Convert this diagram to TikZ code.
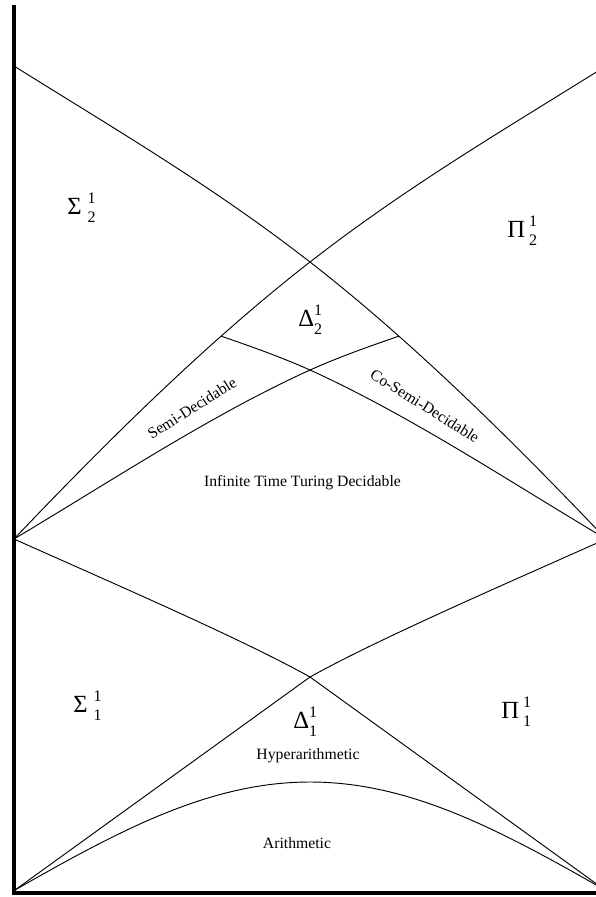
\documentclass[tikz,border=0pt]{standalone}
\usepackage{fontspec}
\setmainfont{Liberation Serif}
\newcommand{\cls}[4][0pt]{#2\kern#1\rlap{\raisebox{0.44em}{\fontsize{12}{12}\selectfont #3}}\raisebox{-0.33em}{\fontsize{12}{12}\selectfont #4}}

\begin{document}
\begin{tikzpicture}[x=0.75pt, y=-0.75pt,
    line/.style={line width=0.7pt},
    axis/.style={line width=3pt},
    big/.style={inner sep=0pt, anchor=base west, font=\fontsize{18.5}{18.5}\selectfont},
    lbl/.style={inner sep=0pt, font=\fontsize{11.8}{14}\selectfont}]
            \useasboundingbox (0,0) rectangle (596,897);
            \clip (0,0) rectangle (596,897);
            \coordinate (T) at (13.7,5.3);
            \coordinate (E) at (597,893);
            \coordinate (O) at (15,890);
            \coordinate (Or) at (605,890);
            \coordinate (M) at (310,782);
            \coordinate (L) at (14,539);
            \coordinate (R) at (606,539);
            \coordinate (A0) at (14,66);
            \coordinate (B0) at (606,66);
            \coordinate (X1) at (310,677);
            \coordinate (X2) at (310,262);
            \coordinate (X3) at (310,370);
            \draw[line] (A0) .. controls (113,128) and (211,185) .. (X2) .. controls (409,339) and (507,435) .. coordinate[pos=0.3] (P2) (R);
            \draw[line] (B0) .. controls (507,128) and (409,185) .. (X2) .. controls (211,339) and (113,435) .. coordinate[pos=0.3] (P1) (L);
            \draw[line] (P2) .. controls +(-29,10) and +(29,-13) .. (X3) .. controls +(-99,45) and +(99,-59) .. (L);
            \draw[line] (P1) .. controls +(29,10) and +(-29,-13) .. (X3) .. controls +(99,45) and +(-99,-59) .. (R);
            \draw[line] (L) .. controls +(96,43) and +(-70,-39) .. (X1) -- (Or);
            \draw[line] (R) .. controls +(-96,43) and +(70,-39) .. (X1) -- (O);
            \draw[line] (O) .. controls +(105,-60) and +(-100,0) .. (M) .. controls +(100,0) and +(-105,-60) .. (Or);
            \draw[axis] (T) |- (E);
            \node[big] (s2) at (67,214) {\cls[4.5pt]{Σ}{1}{2}};
            \node[big] (p2) at (507,237) {\cls[3pt]{Π}{1}{2}};
            \node[big] (d2) at (298,326) {\cls{Δ}{1}{2}};
            \node[big] (s1) at (73,712) {\cls[4.5pt]{Σ}{1}{1}};
            \node[big] (p1) at (501,718) {\cls[3pt]{Π}{1}{1}};
            \node[big] (d1) at (293,728) {\cls{Δ}{1}{1}};
            \node[lbl, rotate=32] (semi) at (192,408) {Semi-Decidable};
            \node[lbl, rotate=-32] (cosemi) at (425,406) {Co-Semi-Decidable};
            \node[lbl, anchor=base] (itt) at (302.5,486) {Infinite Time Turing Decidable};
            \node[lbl, anchor=base] (hyp) at (308,759) {Hyperarithmetic};
            \node[lbl, anchor=base] (ari) at (297,848) {Arithmetic};
        \end{tikzpicture}
\end{document}
